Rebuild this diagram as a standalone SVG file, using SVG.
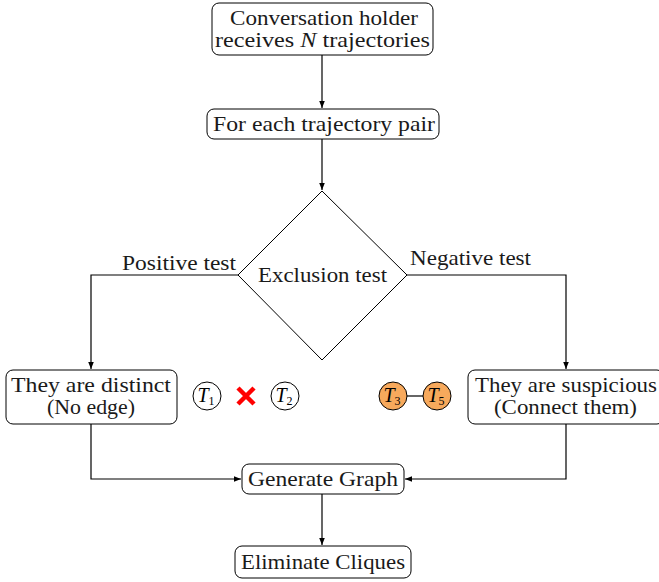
<svg xmlns="http://www.w3.org/2000/svg" width="659" height="582" viewBox="0 0 659 582">
<defs>
<marker id="arr" viewBox="0 0 10 10" refX="10" refY="5" markerWidth="7" markerHeight="7" orient="auto" markerUnits="userSpaceOnUse">
<path d="M0,1 L10,5 L0,9 Z" fill="#000"/>
</marker>
<style>
.box{fill:#fff;stroke:#000;stroke-width:1}
.t{font-family:"Liberation Serif","DejaVu Serif",serif;font-size:21px;fill:#1a1a1a;text-anchor:middle}
.c{fill:none;stroke:#000;stroke-width:1.2}
.circ{fill:#fff;stroke:#000;stroke-width:1}
.orange{fill:#f7a95c;stroke:#000;stroke-width:1}
.ct{font-family:"Liberation Serif","DejaVu Serif",serif;font-size:20px;font-style:italic;fill:#000;text-anchor:middle}
.sub{font-size:12px;font-style:normal}
</style>
</defs>
<rect width="659" height="582" fill="#fff"/>
<g id="connectors">
<path class="c" d="M322,55 V108" marker-end="url(#arr)"/>
<path class="c" d="M322,139 V190" marker-end="url(#arr)"/>
<path class="c" d="M238,275 H91 V369" marker-end="url(#arr)"/>
<path class="c" d="M407,275 H566 V369" marker-end="url(#arr)"/>
<path class="c" d="M91,424 V479 H241" marker-end="url(#arr)"/>
<path class="c" d="M566,424 V479 H405" marker-end="url(#arr)"/>
<path class="c" d="M322,494 V545" marker-end="url(#arr)"/>
<text class="t" x="179" y="270" textLength="114" lengthAdjust="spacingAndGlyphs">Positive test</text>
<text class="t" x="470.5" y="265" textLength="121" lengthAdjust="spacingAndGlyphs">Negative test</text>
</g>
<g id="n1">
<rect class="box" x="212" y="3" width="221" height="52" rx="7"/>
<text class="t" x="324" y="25" textLength="188" lengthAdjust="spacingAndGlyphs">Conversation holder</text>
<text class="t" x="322.5" y="47" textLength="215" lengthAdjust="spacingAndGlyphs">receives <tspan font-style="italic">N</tspan> trajectories</text>
</g>
<g id="n2">
<rect class="box" x="207" y="109" width="232" height="30" rx="7"/>
<text class="t" x="324" y="131" textLength="222" lengthAdjust="spacingAndGlyphs">For each trajectory pair</text>
</g>
<g id="n3">
<polygon points="322,191 407,275 322,360 238,275" fill="#fff" stroke="#000" stroke-width="1"/>
<text class="t" x="322.5" y="282" textLength="129" lengthAdjust="spacingAndGlyphs">Exclusion test</text>
</g>
<g id="n4">
<rect class="box" x="6" y="370" width="171" height="54" rx="7"/>
<text class="t" x="91" y="392" textLength="160" lengthAdjust="spacingAndGlyphs">They are distinct</text>
<text class="t" x="91" y="414" textLength="88" lengthAdjust="spacingAndGlyphs">(No edge)</text>
</g>
<g id="n5">
<rect class="box" x="468" y="370" width="196" height="54" rx="7"/>
<text class="t" x="566" y="392" textLength="182" lengthAdjust="spacingAndGlyphs">They are suspicious</text>
<text class="t" x="565.5" y="414" textLength="143" lengthAdjust="spacingAndGlyphs">(Connect them)</text>
</g>
<g id="t1">
<circle class="circ" cx="207" cy="396" r="14"/>
<text class="ct" x="206" y="402">T<tspan class="sub" dy="3">1</tspan></text>
</g>
<g id="cross">
<path d="M238,388 L254,404 M254,388 L238,404" stroke="#ff0000" stroke-width="4.5" fill="none"/>
</g>
<g id="t2">
<circle class="circ" cx="285" cy="396" r="14"/>
<text class="ct" x="284" y="402">T<tspan class="sub" dy="3">2</tspan></text>
</g>
<g id="edge35">
<line x1="407" y1="396" x2="423" y2="396" stroke="#000" stroke-width="1.2"/>
</g>
<g id="t3">
<circle class="orange" cx="393" cy="396" r="14"/>
<text class="ct" x="392" y="402">T<tspan class="sub" dy="3">3</tspan></text>
</g>
<g id="t5">
<circle class="orange" cx="437" cy="396" r="14"/>
<text class="ct" x="436" y="402">T<tspan class="sub" dy="3">5</tspan></text>
</g>
<g id="n6">
<rect class="box" x="242" y="464" width="162" height="30" rx="7"/>
<text class="t" x="323" y="486" textLength="150" lengthAdjust="spacingAndGlyphs">Generate Graph</text>
</g>
<g id="n7">
<rect class="box" x="235" y="546" width="176" height="32" rx="7"/>
<text class="t" x="323" y="569" textLength="164" lengthAdjust="spacingAndGlyphs">Eliminate Cliques</text>
</g>
</svg>
